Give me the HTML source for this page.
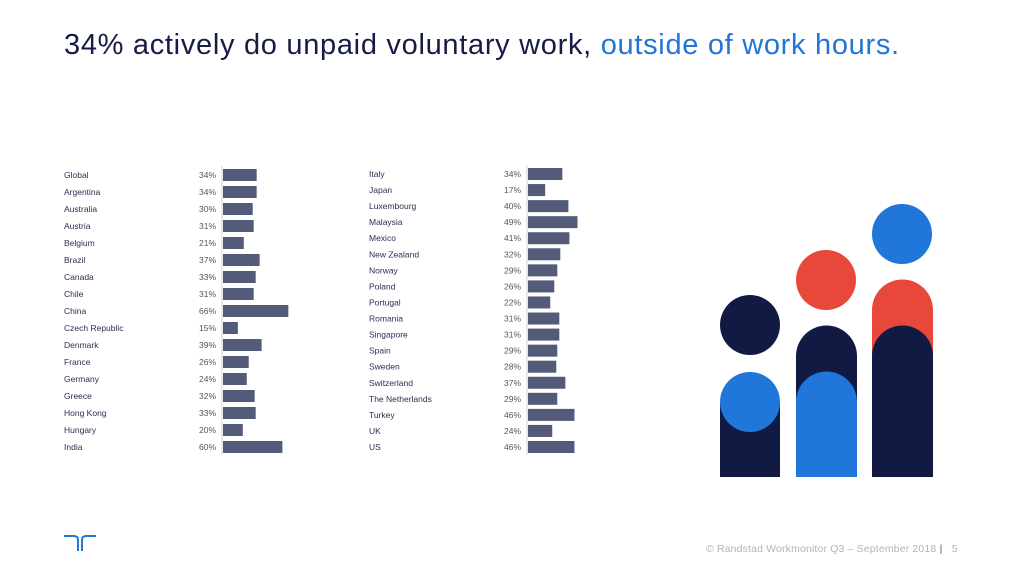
<!DOCTYPE html>
<html><head><meta charset="utf-8"><style>
body{margin:0;width:1024px;height:576px;background:#fff;position:relative;overflow:hidden;font-family:"Liberation Sans",sans-serif}
#title{position:absolute;left:64px;top:29px;font-size:29px;color:#161c46;white-space:nowrap;letter-spacing:0.7px}
#title span{color:#2175d9}
#foot{position:absolute;left:706px;top:543px;font-size:10.5px;color:#b4b4b4;white-space:nowrap;letter-spacing:0.15px}
</style></head><body>
<div id="title">34% actively do unpaid voluntary work, <span>outside of work hours.</span></div>
<svg id="chart" width="1024" height="576" style="position:absolute;left:0;top:0"></svg>
<svg width="1024" height="576" style="position:absolute;left:0;top:0">
<rect x="720" y="402" width="60" height="75" fill="#111a42"/>
<circle cx="750" cy="402" r="30" fill="#2176d9"/>
<circle cx="750" cy="325" r="30" fill="#111a42"/>
<path d="M796 477V356a30 30 0 0 1 61 0V477Z" fill="#111a42"/>
<path d="M796 477V402a30 30 0 0 1 61 0V477Z" fill="#2176d9"/>
<circle cx="826" cy="280" r="30" fill="#e74839"/>
<path d="M872 477V310a30 30 0 0 1 61 0V477Z" fill="#e74839"/>
<path d="M872 477V356a30 30 0 0 1 61 0V477Z" fill="#111a42"/>
<circle cx="902" cy="234" r="30" fill="#2176d9"/>
</svg>
<svg width="40" height="24" style="position:absolute;left:62px;top:531px">
<path d="M2 5H12Q16 5 16 9V20" stroke="#2176d9" stroke-width="2" fill="none"/>
<path d="M34 5H24Q20 5 20 9V20" stroke="#2176d9" stroke-width="2" fill="none"/>
</svg>
<div id="foot">© Randstad Workmonitor Q3 – September 2018 <b style="color:#999">|</b> &nbsp; 5</div>
<script>
const leftCountries=["Global","Argentina","Australia","Austria","Belgium","Brazil","Canada","Chile","China","Czech Republic","Denmark","France","Germany","Greece","Hong Kong","Hungary","India"];
const leftValues=[34,34,30,31,21,37,33,31,66,15,39,26,24,32,33,20,60];
const rightCountries=["Italy","Japan","Luxembourg","Malaysia","Mexico","New Zealand","Norway","Poland","Portugal","Romania","Singapore","Spain","Sweden","Switzerland","The Netherlands","Turkey","UK","US"];
const rightValues=[34,17,40,49,41,32,29,26,22,31,31,29,28,37,29,46,24,46];
const svg=document.getElementById('chart');
const NS='http://www.w3.org/2000/svg';
function panel(cats,vals,labelX,axisX,y0,y1,pxPer){
  const step=(y1-y0)/(cats.length-1);
  const yScale=i=>y0+i*step;
  const xScale=v=>v*pxPer;
  const ax=document.createElementNS(NS,'line');
  ax.setAttribute('x1',axisX);ax.setAttribute('x2',axisX);
  ax.setAttribute('y1',y0-9);ax.setAttribute('y2',y1+8);
  ax.setAttribute('stroke','#d0d0d8');ax.setAttribute('stroke-width','1');
  
  
  svg.appendChild(ax);
  cats.forEach((c,i)=>{
    const y=yScale(i);
    const t=document.createElementNS(NS,'text');
    t.setAttribute('x',labelX);t.setAttribute('y',y+3);
    t.setAttribute('font-size','8.5');t.setAttribute('fill','#2a2f50');
    t.textContent=c;
    
    
    svg.appendChild(t);
    const v=document.createElementNS(NS,'text');
    v.setAttribute('x',axisX-6);v.setAttribute('y',y+3);
    v.setAttribute('font-size','8.5');v.setAttribute('fill','#555');
    v.setAttribute('text-anchor','end');
    v.textContent=vals[i]+'%';
    
    
    svg.appendChild(v);
    const r=document.createElementNS(NS,'rect');
    r.setAttribute('x',axisX+1);r.setAttribute('y',y-6);
    r.setAttribute('width',xScale(vals[i]));r.setAttribute('height',12);
    r.setAttribute('fill','#545a79');
    
    
    svg.appendChild(r);
  });
}
panel(leftCountries,leftValues,64,222,175,447,0.99);
panel(rightCountries,rightValues,369,527,174,447,1.01);
</script>
</body></html>
